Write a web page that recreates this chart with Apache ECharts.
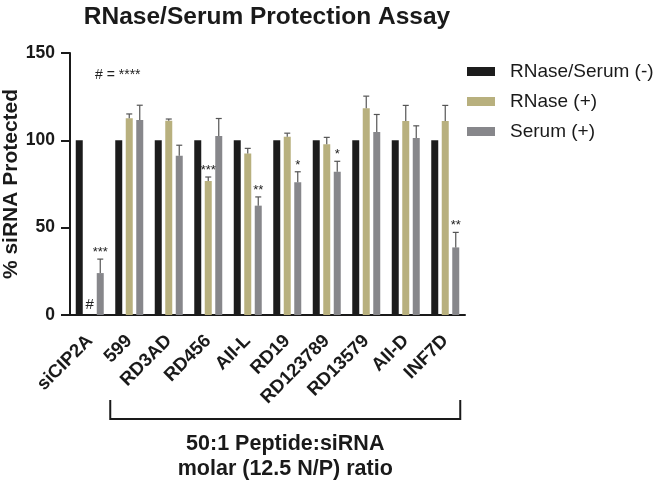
<!DOCTYPE html>
<html>
<head>
<meta charset="utf-8">
<script src="https://cdn.jsdelivr.net/npm/echarts@6/dist/echarts.min.js"></script>
<style>
  html, body { margin: 0; padding: 0; background: #fff; }
  #chart { width: 660px; height: 481px; }
</style>
</head>
<body>
<div id="chart"></div>
<script>
const categories = ['siCIP2A', '599', 'RD3AD', 'RD456', 'AII-L', 'RD19', 'RD123789', 'RD13579', 'AII-D', 'INF7D'];
const seriesNames = ['RNase/Serum (-)', 'RNase (+)', 'Serum (+)'];

const controlVals = [100, 100, 100, 100, 100, 100, 100, 100, 100, 100];
const rnaseVals = [0, 112.6, 111.2, 76.7, 92.4, 102.1, 97.7, 118.3, 111, 111];
const rnaseErr = [0, 2.5, 1, 2.3, 3, 2, 4, 7, 9, 9];
const serumVals = [24, 111.6, 91.2, 102.5, 62.6, 76, 82, 104.8, 101.3, 38.7];
const serumErr = [8, 8.5, 6, 10, 5, 6, 6, 10, 7, 8.6];

// significance marks above the bars
const rnaseMarks = ['#', '', '', '***', '', '', '', '', '', ''];
const serumMarks = ['***', '', '', '', '**', '*', '*', '', '', '**'];

const colors = ['#1c1c1c', '#b8b07e', '#87878b'];
const FONT = '"Liberation Sans", Arial, sans-serif';
const BAR_STEP = 10.5; // barWidth 7 + gap 3.5

const chart = echarts.init(document.getElementById('chart'));

// error bars + star labels, shifted to the bar they belong to
function errorSeries(vals, errs, marks, slot) {
    return {
        type: 'custom',
        z: 5,
        data: vals.map((v, i) => [i, v, errs[i]]),
        renderItem: (params, api) => {
            const i = api.value(0);
            const v = api.value(1);
            const e = api.value(2);
            const mark = marks[i];
            const base = api.coord([i, v]);
            const x = base[0] + (slot - 1) * BAR_STEP;
            const top = api.coord([i, v + e])[1];
            const children = [];
            if (e > 0) {
                children.push(
                    { type: 'line', shape: { x1: x, y1: base[1], x2: x, y2: top }, style: { stroke: '#555', lineWidth: 1.2 } },
                    { type: 'line', shape: { x1: x - 3, y1: top, x2: x + 3, y2: top }, style: { stroke: '#555', lineWidth: 1.2 } }
                );
            }
            if (mark) {
                const isHash = mark === '#';
                children.push({
                    type: 'text',
                    style: {
                        text: mark,
                        x: x,
                        y: top - (isHash ? 3 : 0),
                        textAlign: 'center',
                        textVerticalAlign: 'bottom',
                        fontSize: isHash ? 15 : 13,
                        fontFamily: FONT,
                        fill: '#222'
                    }
                });
            }
            return { type: 'group', children };
        }
    };
}

const option = {
    animation: false,
    title: {
        text: 'RNase/Serum Protection Assay',
        left: 262,
        textAlign: 'center',
        top: 0,
        textStyle: { fontSize: 24.5, fontWeight: 'bold', fontFamily: FONT, color: '#1a1a1a' }
    },
    legend: {
        orient: 'vertical',
        left: 467,
        top: 62,
        padding: 0,
        itemWidth: 28,
        itemHeight: 9,
        itemGap: 11,
        icon: 'rect',
        data: seriesNames,
        textStyle: { fontSize: 19, fontFamily: FONT, color: '#1a1a1a', padding: [0, 0, 0, 10] }
    },
    grid: { left: 70, right: 195, top: 53, bottom: 166, containLabel: false, outerBoundsMode: 'none' },
    xAxis: {
        type: 'category',
        data: categories,
        axisLine: { lineStyle: { color: '#1a1a1a', width: 2 } },
        axisTick: { alignWithLabel: true, length: 10, lineStyle: { color: '#1a1a1a', width: 2 } },
        axisLabel: {
            interval: 0,
            rotate: 45,
            margin: 23,
            fontSize: 18.5,
            fontWeight: 'bold',
            fontFamily: FONT,
            color: '#1a1a1a'
        }
    },
    yAxis: {
        type: 'value',
        min: 0,
        max: 150,
        interval: 50,
        name: '% siRNA Protected',
        nameLocation: 'middle',
        nameGap: 48,
        nameMoveOverlap: false,
        nameTextStyle: { fontSize: 21, fontWeight: 'bold', fontFamily: FONT, color: '#1a1a1a' },
        splitLine: { show: false },
        axisLine: { show: true, lineStyle: { color: '#1a1a1a', width: 2 } },
        axisTick: { show: true, length: 9, lineStyle: { color: '#1a1a1a', width: 2 } },
        axisLabel: { fontSize: 17.5, fontWeight: 'bold', fontFamily: FONT, color: '#1a1a1a', margin: 15 }
    },
    series: [
        { name: seriesNames[0], type: 'bar', data: controlVals, barWidth: 7, barGap: '50%', itemStyle: { color: colors[0] } },
        { name: seriesNames[1], type: 'bar', data: rnaseVals, barWidth: 7, barGap: '50%', itemStyle: { color: colors[1] } },
        { name: seriesNames[2], type: 'bar', data: serumVals, barWidth: 7, barGap: '50%', itemStyle: { color: colors[2] } },
        errorSeries(rnaseVals, rnaseErr, rnaseMarks, 1),
        errorSeries(serumVals, serumErr, serumMarks, 2)
    ]
};

chart.setOption(option);

// bracket under the peptide groups + notes
const xFirst = chart.convertToPixel({ xAxisIndex: 0 }, categories[1]);
const xLast = chart.convertToPixel({ xAxisIndex: 0 }, categories[categories.length - 1]);
const left = xFirst - 19;
const right = xLast + 15;
const mid = (left + right) / 2;

chart.setOption({
    graphic: [
        {
            type: 'polyline',
            shape: { points: [[left, 400], [left, 419], [right, 419], [right, 400]] },
            style: { stroke: '#1a1a1a', lineWidth: 2, fill: null }
        },
        {
            type: 'text',
            x: mid,
            y: 444,
            style: { text: '50:1 Peptide:siRNA', fontSize: 21.5, fontWeight: 'bold', fontFamily: FONT, fill: '#1a1a1a', textAlign: 'center', textVerticalAlign: 'middle' }
        },
        {
            type: 'text',
            x: mid,
            y: 469,
            style: { text: 'molar (12.5 N/P) ratio', fontSize: 21.5, fontWeight: 'bold', fontFamily: FONT, fill: '#1a1a1a', textAlign: 'center', textVerticalAlign: 'middle' }
        },
        {
            type: 'text',
            x: 95,
            y: 68,
            style: { text: '# = ****', fontSize: 14, fontFamily: FONT, fill: '#222' }
        }
    ]
});
</script>
</body>
</html>
